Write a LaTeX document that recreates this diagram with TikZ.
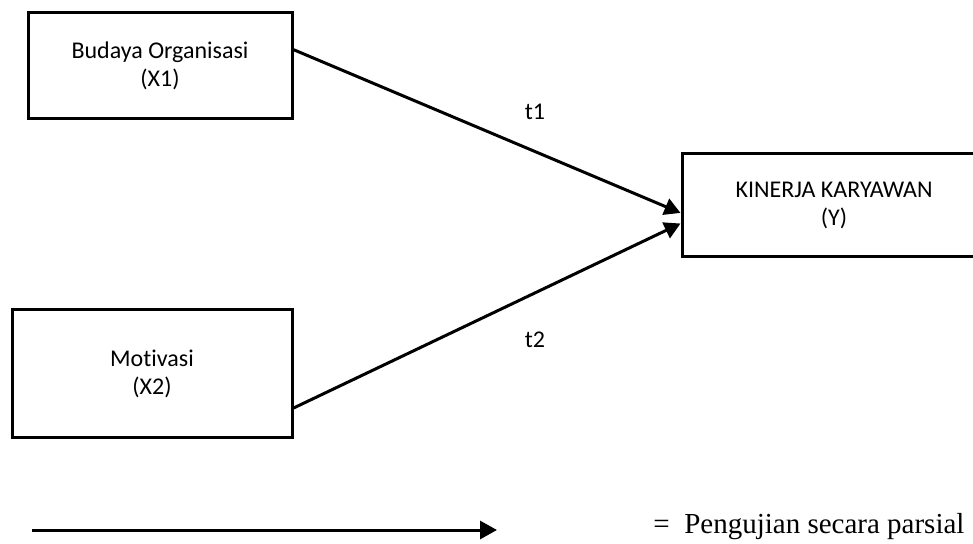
\documentclass[tikz,border=0pt]{standalone}
\usepackage{fontspec}
\setmainfont{Liberation Serif}
\newfontfamily\boxfont[Ligatures=NoCommon]{Carlito}
\usetikzlibrary{positioning, arrows.meta, calc}

\begin{document}
\begin{tikzpicture}[x=0.5pt, y=-0.5pt, font=\boxfont\fontsize{12}{14}\selectfont,
  var/.style={draw, line width=1.5pt, align=center, inner sep=0pt},
  arr/.style={-{Triangle[length=8pt, width=8.5pt]}, line width=1.5pt}
]
  \useasboundingbox (0,0) rectangle (973,544);
  \clip (0,0) rectangle (973,544);
  % variables
  \node[var, minimum width=132pt, minimum height=53pt] (budaya) at (160,66) {Budaya Organisasi\\(X1)};
  \node[var, minimum width=140pt, minimum height=64pt] (motivasi) at (152,374) {Motivasi\\(X2)};
  \node[var, minimum width=152pt, minimum height=51.5pt] (kinerja) at (834,205.5) {KINERJA KARYAWAN\\(Y)};
  % partial tests
  \draw[arr] ($(budaya.north east)!0.35!(budaya.south east)$) -- ($(kinerja.north west)!0.57!(kinerja.south west)$);
  \draw[arr] ($(motivasi.north east)!0.76!(motivasi.south east)$) -- ($(kinerja.north west)!0.67!(kinerja.south west)$);
  \node (t1) at (535,112) {t1};
  \node (t2) at (535,340) {t2};
  % legend
  \coordinate (legstart) at (32,530);
  \coordinate (legend) at (497,530);
  \draw[arr, -{Triangle[length=8.5pt, width=9pt]}] (legstart) -- (legend);
  \node[anchor=base west, inner sep=0pt, font=\rmfamily\fontsize{14.5}{17}\selectfont] (ket) at (653,533) {=~~Pengujian secara parsial};
\end{tikzpicture}
\end{document}
